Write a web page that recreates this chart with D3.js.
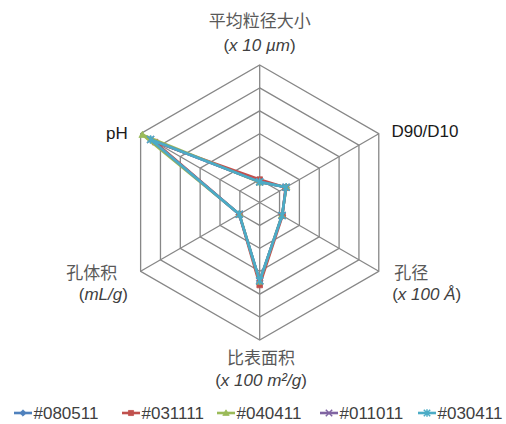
<!DOCTYPE html>
<html>
<head>
<meta charset="utf-8">
<script src="https://cdn.jsdelivr.net/npm/d3@7"></script>
<style>
  html, body { margin: 0; padding: 0; background: #fff; }
  svg { display: block; font-family: "Liberation Sans", Arial, "Noto Sans CJK SC", sans-serif; }
</style>
</head>
<body>
<svg id="chart" width="506" height="424"></svg>
<script>
// Axes of the radar, clockwise from the top
const axes = ["平均粒径大小", "D90/D10", "孔径", "比表面积", "孔体积", "pH"];
const seriesNames = ["#080511", "#031111", "#040411", "#011011", "#030411"];
const seriesColors = ["#4F81BD", "#C0504D", "#9BBB59", "#8064A2", "#4BACC6"];
const seriesMarkers = ["diamond", "square", "triangle", "cross", "star"];

// Values per sample, in axis order
const s080511 = [0.90, 1.33, 1.13, 3.42, 1.03, 5.50];
const s031111 = [1.00, 1.30, 1.15, 3.60, 1.03, 5.27];
const s040411 = [0.88, 1.35, 1.12, 3.45, 1.02, 5.91];
const s011011 = [0.90, 1.33, 1.13, 3.42, 1.03, 5.50];
const s030411 = [0.90, 1.33, 1.13, 3.41, 1.03, 5.50];
const seriesValues = [s080511, s031111, s040411, s011011, s030411];

const ringTicks = [1, 2, 3, 4, 5, 6];

const svg = d3.select("#chart");
const cx = 259.7, cy = 202.5, R = 137.5;
const r = d3.scaleLinear().domain([0, 6]).range([0, R]);
const angle = d3.scalePoint().domain(axes).range([0, 2 * Math.PI * 5 / 6]);

const plot = svg.append("g").attr("transform", `translate(${cx},${cy})`);
const gridColor = "#878787";

// Hexagonal rings
const ringLine = d3.lineRadial().curve(d3.curveLinearClosed);
plot.append("g").selectAll("path").data(ringTicks).join("path")
  .attr("d", t => ringLine(axes.map(a => [angle(a), r(t)])))
  .attr("fill", "none").attr("stroke", gridColor).attr("stroke-width", 1.3);

// Spokes
plot.append("g").selectAll("line").data(axes).join("line")
  .attr("x1", 0).attr("y1", 0)
  .attr("x2", a => r(6) * Math.sin(angle(a)))
  .attr("y2", a => -r(6) * Math.cos(angle(a)))
  .attr("stroke", gridColor).attr("stroke-width", 1.3);

function markerPath(type, s) {
  switch (type) {
    case "diamond": return `M0,${-s}L${s},0L0,${s}L${-s},0Z`;
    case "square": return `M${-s*0.8},${-s*0.8}H${s*0.8}V${s*0.8}H${-s*0.8}Z`;
    case "triangle": return `M0,${-s}L${s},${s*0.75}L${-s},${s*0.75}Z`;
    case "cross": return `M${-s},${-s}L${s},${s}M${-s},${s}L${s},${-s}`;
    case "star": return `M${-s},${-s}L${s},${s}M${-s},${s}L${s},${-s}M0,${-s*1.2}V${s*1.2}`;
  }
}
function drawMarker(g, type, color, s) {
  const filled = type !== "cross" && type !== "star";
  g.append("path").attr("d", markerPath(type, s))
    .attr("fill", filled ? color : "none")
    .attr("stroke", color).attr("stroke-width", filled ? 0.8 : 1.5);
}

// Series polygons and markers
const seriesLine = d3.lineRadial().curve(d3.curveLinearClosed);
seriesValues.forEach((vals, i) => {
  const g = plot.append("g");
  g.append("path")
    .attr("d", seriesLine(vals.map((v, k) => [angle(axes[k]), r(v)])))
    .attr("fill", "none").attr("stroke", seriesColors[i])
    .attr("stroke-width", 2.6).attr("stroke-linejoin", "round");
  vals.forEach((v, k) => {
    const a = angle(axes[k]);
    const m = g.append("g").attr("transform", `translate(${r(v) * Math.sin(a)},${-r(v) * Math.cos(a)})`);
    drawMarker(m, seriesMarkers[i], seriesColors[i], 3.5);
  });
});

// Axis labels
const textColor = "#404040";
const cjkColor = "#595959";
const fs = 17;
function label(x, y, parts, anchor) {
  const t = svg.append("text").attr("x", x).attr("y", y)
    .attr("text-anchor", anchor || "middle").attr("font-size", fs);
  parts.forEach(p => {
    t.append("tspan").text(p.t)
      .attr("font-style", p.i ? "italic" : null)
      .attr("fill", p.c || textColor);
  });
}
label(259.7, 27, [{t: "平均粒径大小", c: cjkColor}]);
label(259.5, 51, [{t: "("}, {t: "x 10 µm", i: true}, {t: ")"}]);
label(425, 136.7, [{t: "D90/D10", c: "#1a1a1a"}]);
label(411.3, 278.5, [{t: "孔径", c: cjkColor}]);
label(426.7, 299.5, [{t: "("}, {t: "x 100 Å", i: true}, {t: ")"}]);
label(261, 363.5, [{t: "比表面积", c: cjkColor}]);
label(261, 386, [{t: "("}, {t: "x 100 m²/g", i: true}, {t: ")"}]);
label(91.7, 278.5, [{t: "孔体积", c: cjkColor}]);
label(103.3, 299.5, [{t: "("}, {t: "mL/g", i: true}, {t: ")"}]);
label(127.7, 138.8, [{t: "pH", c: "#1a1a1a"}], "end");

// Legend
const legendX = [14, 122, 217, 320, 418];
const legendY = 413;
seriesNames.forEach((name, i) => {
  const g = svg.append("g").attr("transform", `translate(${legendX[i]},${legendY})`);
  g.append("line").attr("x1", 0).attr("x2", 18).attr("y1", 0).attr("y2", 0)
    .attr("stroke", seriesColors[i]).attr("stroke-width", 2.6);
  const m = g.append("g").attr("transform", "translate(9,0)");
  drawMarker(m, seriesMarkers[i], seriesColors[i], 3.2);
  g.append("text").attr("x", 19.5).attr("y", 6).attr("font-size", fs)
    .attr("fill", textColor).text(name);
});
</script>
</body>
</html>
